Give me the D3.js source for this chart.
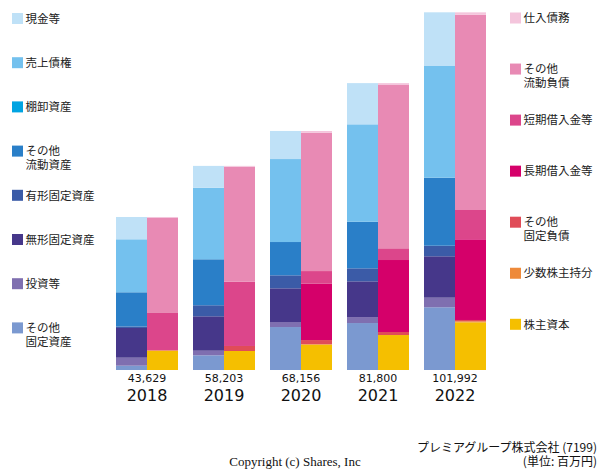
<!DOCTYPE html>
<html><head><meta charset="utf-8">
<script src="https://cdn.jsdelivr.net/npm/d3@7"></script>
<style>
html,body{margin:0;padding:0;background:#fff;}
svg{display:block;}
</style>
</head><body>
<svg id="chart" width="600" height="470"></svg>
<script>
const years = ["2018","2019","2020","2021","2022"];
const totals = [43629, 58203, 68156, 81800, 101992];

const assetNames = ["現金等","売上債権","棚卸資産","その他\n流動資産","有形固定資産","無形固定資産","投資等","その他\n固定資産"];
const assetColors = ["#bfe1f7","#74c1ee","#00a4e2","#2a7fc8","#3b5ba7","#46378a","#7f6fb0","#7b99d0"];
// values per year (top to bottom order as listed)
const cash        = [6360, 6220, 8010, 11750, 15310];
const receivables = [15110, 20410, 23660, 27770, 31850];
const inventory   = [0, 0, 0, 0, 0];
const otherCurA   = [9750, 13110, 9490, 13290, 19390];
const tangible    = [430, 3150, 3710, 3710, 3020];
const intangible  = [8470, 9810, 9610, 10180, 11800];
const investments = [2280, 1310, 1430, 1710, 2740];
const otherFixA   = [1230, 4190, 12250, 13390, 17880];

const liabNames = ["仕入債務","その他\n流動負債","短期借入金等","長期借入金等","その他\n固定負債","少数株主持分","株主資本"];
const liabColors = ["#f4c5dc","#e88ab4","#dc468b","#d5006a","#e04c58","#ee8a3a","#f5bf00"];
const payables    = [290, 230, 510, 540, 680];
const otherCurL   = [27080, 32790, 39430, 46560, 55680];
const shortDebt   = [10630, 18330, 3620, 3340, 8350];
const longDebt    = [0, 0, 16050, 20530, 23010];
const otherFixL   = [0, 1430, 1140, 860, 370];
const minority    = [200, 0, 200, 0, 290];
const equity      = [5430, 5420, 7200, 9970, 13600];

const assetSeries = [cash, receivables, inventory, otherCurA, tangible, intangible, investments, otherFixA];
const liabSeries = [payables, otherCurL, shortDebt, longDebt, otherFixL, minority, equity];

const svg = d3.select("#chart");
const x = d3.scaleBand().domain(years).range([108.5, 493.5]).paddingInner(0.1948).paddingOuter(0.0974);
const y = d3.scaleLinear().domain([0, 101992]).range([370, 12.3]);
const half = x.bandwidth() / 2;

function drawStack(series, colors, offset) {
  years.forEach((yr, i) => {
    let acc = 0;
    const segs = [];
    for (let s = series.length - 1; s >= 0; s--) {
      const v = series[s][i];
      segs.push({s, y0: acc, y1: acc + v});
      acc += v;
    }
    svg.append("g").selectAll("rect").data(segs.filter(d => d.y1 > d.y0)).join("rect")
      .attr("x", x(yr) + offset)
      .attr("width", half)
      .attr("y", d => y(d.y1))
      .attr("height", d => y(d.y0) - y(d.y1))
      .attr("fill", d => colors[d.s]);
  });
}
drawStack(assetSeries, assetColors, 0);
drawStack(liabSeries, liabColors, half);

const fmt = d3.format(",");
const lab = svg.append("g");
years.forEach((yr, i) => {
  const cx = x(yr) + half;
  lab.append("text").attr("x", cx).attr("y", 382).attr("text-anchor","middle")
    .attr("font-family","DejaVu Sans, sans-serif").attr("font-size", 11).attr("fill","#111")
    .text(fmt(totals[i]));
  lab.append("text").attr("x", cx).attr("y", 400.5).attr("text-anchor","middle")
    .attr("font-family","DejaVu Sans, sans-serif").attr("font-size", 16).attr("fill","#111")
    .text(yr);
});

function legend(names, colors, x0, y0, step) {
  const g = svg.append("g");
  names.forEach((n, i) => {
    const cy = y0 + i * step;
    g.append("rect").attr("x", x0).attr("y", cy - 5.5).attr("width", 11).attr("height", 11).attr("fill", colors[i]);
    const t = g.append("text").attr("x", x0 + 13.5).attr("y", cy + 4.2)
      .attr("font-family","Noto Sans CJK JP, sans-serif").attr("font-size", 11.5).attr("fill","#222");
    n.split("\n").forEach((l, j) => {
      t.append("tspan").attr("x", x0 + 13.5).attr("dy", j === 0 ? 0 : 14).text(l);
    });
  });
}
legend(assetNames, assetColors, 12, 18.5, 44.2);
legend(liabNames, liabColors, 510, 18, 51.05);

const src = svg.append("text").attr("text-anchor","end")
  .attr("font-family","Noto Sans CJK JP, sans-serif").attr("font-size", 12).attr("fill","#111")
  .attr("x", 597).attr("y", 451.5);
src.append("tspan").attr("x", 597).attr("dy", 0).text("プレミアグループ株式会社 (7199)");
src.append("tspan").attr("x", 597).attr("dy", 14).text("(単位: 百万円)");

svg.append("text").attr("x", 295).attr("y", 465.5).attr("text-anchor","middle")
  .attr("font-family","Liberation Serif, serif").attr("font-size", 13).attr("fill","#111")
  .text("Copyright (c) Shares, Inc");
</script>
</body></html>
